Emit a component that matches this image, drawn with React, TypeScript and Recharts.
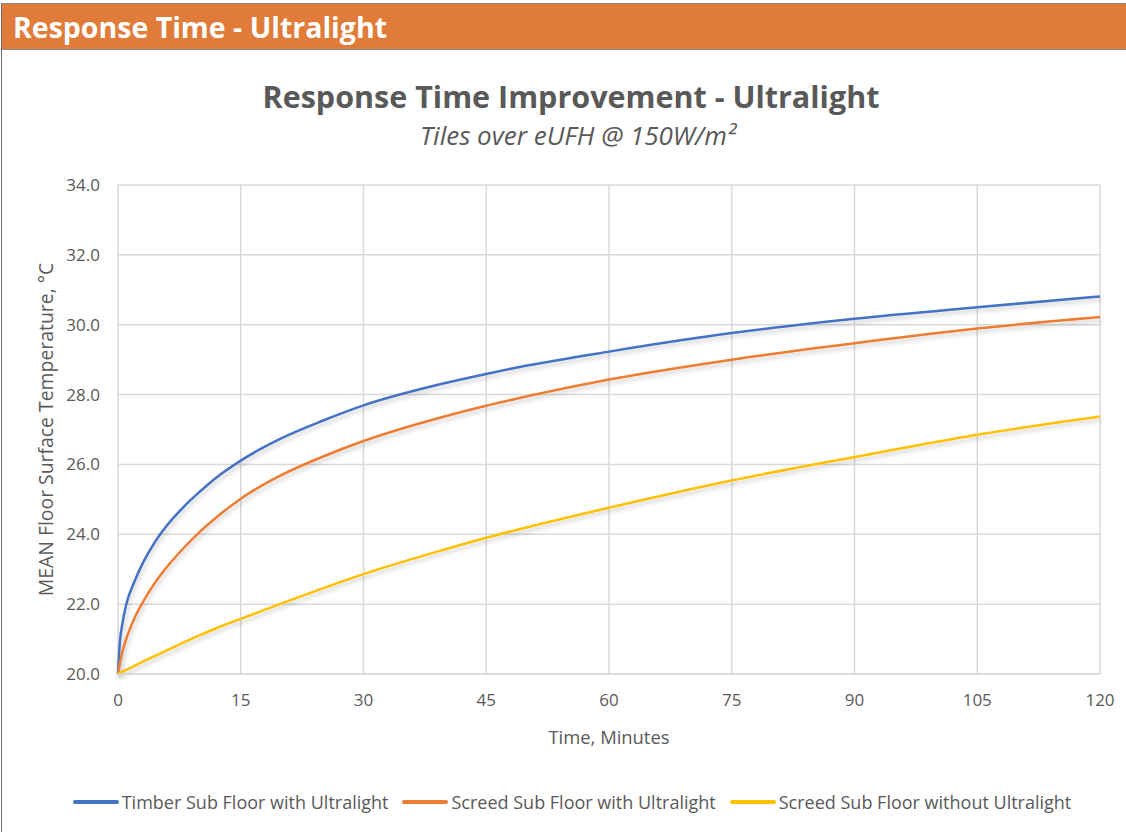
import { LineChart, Line, XAxis, YAxis, CartesianGrid } from "recharts";

const minutes = [0, 0.25, 0.5, 1, 2, 3, 4, 5, 6, 8, 10, 12, 15, 20, 25, 30, 40, 45, 50, 60, 75, 90, 105, 120];
const timberWith = [20, 20.97, 21.39, 21.98, 22.64, 23.16, 23.58, 23.95, 24.26, 24.78, 25.22, 25.62, 26.11, 26.75, 27.25, 27.69, 28.33, 28.59, 28.83, 29.23, 29.76, 30.17, 30.5, 30.81];
const screedWith = [20, 20.33, 20.6, 21.0, 21.59, 22.04, 22.43, 22.77, 23.07, 23.6, 24.07, 24.48, 25.02, 25.7, 26.22, 26.67, 27.38, 27.68, 27.95, 28.43, 29.0, 29.47, 29.89, 30.22];
const screedWithout = [20, 20.03, 20.06, 20.12, 20.23, 20.35, 20.46, 20.57, 20.68, 20.9, 21.11, 21.31, 21.58, 22.02, 22.45, 22.86, 23.57, 23.9, 24.2, 24.76, 25.54, 26.21, 26.85, 27.37];

const xTicks = [0, 15, 30, 45, 60, 75, 90, 105, 120];
const yTicks = [20, 22, 24, 26, 28, 30, 32, 34];

const SERIES = [
  { key: "timber", name: "Timber Sub Floor with Ultralight", color: "#4472C4" },
  { key: "screed", name: "Screed Sub Floor with Ultralight", color: "#ED7D31" },
  { key: "screedNo", name: "Screed Sub Floor without Ultralight", color: "#FFC000" },
];

const FONT = "'Open Sans', Lato, sans-serif";
const TEXT = "#595959";

const data = minutes.map((t, i) => ({
  t,
  timber: timberWith[i],
  screed: screedWith[i],
  screedNo: screedWithout[i],
}));

export default function App() {
  return (
    <div style={{ position: "fixed", left: 0, top: 0, width: 1126, height: 832, background: "#fff", overflow: "hidden" }}>
      <svg width={0} height={0} style={{ position: "absolute" }}>
        <defs>
          <filter id="lineShadow" x="-5%" y="-5%" width="110%" height="120%">
            <feDropShadow dx={1.5} dy={3} stdDeviation={2} floodColor="#000" floodOpacity={0.2} />
          </filter>
        </defs>
      </svg>
      <div
        style={{
          position: "absolute",
          left: 1,
          top: 3,
          width: 1140,
          height: 840,
          borderLeft: "1.5px solid #6f6f6f",
          borderTop: "1.5px solid #8a8a8a",
          boxSizing: "border-box",
        }}
      >
        <div
          style={{
            height: 45,
            background: "#E07B39",
            borderBottom: "1.5px solid #8a8a8a",
            color: "#fff",
            fontFamily: FONT,
            fontWeight: 700,
            fontSize: 28.5,
            lineHeight: "46px",
            paddingLeft: 11,
          }}
        >
          Response Time - Ultralight
        </div>
      </div>
      <div
        style={{
          position: "absolute",
          left: 0,
          top: 75,
          width: 1142,
          textAlign: "center",
          fontFamily: FONT,
          fontWeight: 700,
          fontSize: 30.5,
          color: TEXT,
        }}
      >
        Response Time Improvement - Ultralight
      </div>
      <div
        style={{
          position: "absolute",
          left: 0,
          top: 117,
          width: 1156,
          textAlign: "center",
          fontFamily: FONT,
          fontStyle: "italic",
          fontSize: 26,
          color: TEXT,
        }}
      >
        Tiles over eUFH @ 150W/m²
      </div>
      <div style={{ position: "absolute", left: 0, top: 0 }}>
        <LineChart width={1126} height={832} data={data} margin={{ top: 185, right: 26, bottom: 98, left: 58 }}>
          <CartesianGrid stroke="#d9d9d9" strokeWidth={1.5} />
          <XAxis
            dataKey="t"
            type="number"
            domain={[0, 120]}
            ticks={xTicks}
            height={60}
            tickLine={false}
            tickSize={0}
            tickMargin={20}
            axisLine={{ stroke: "#d9d9d9", strokeWidth: 1.5 }}
            tick={{ fill: TEXT, fontSize: 17, fontFamily: FONT }}
            label={{
              content: ({ viewBox }: any) => (
                <text
                  x={viewBox.x + viewBox.width / 2}
                  y={viewBox.y + 70}
                  textAnchor="middle"
                  fill={TEXT}
                  fontSize={18.4}
                  fontFamily={FONT}
                >
                  Time, Minutes
                </text>
              ),
            }}
          />
          <YAxis
            type="number"
            domain={[20, 34]}
            ticks={yTicks}
            width={60}
            axisLine={false}
            tickLine={false}
            tickSize={0}
            tickMargin={18}
            tickFormatter={(v: number) => v.toFixed(1)}
            tick={{ fill: TEXT, fontSize: 17, fontFamily: FONT }}
            label={{
              content: ({ viewBox }: any) => {
                const cx = viewBox.x - 13;
                const cy = viewBox.y + viewBox.height / 2;
                return (
                  <text
                    x={cx}
                    y={cy}
                    transform={`rotate(-90, ${cx}, ${cy})`}
                    textAnchor="middle"
                    dominantBaseline="central"
                    fill={TEXT}
                    fontSize={19.4}
                    fontFamily={FONT}
                  >
                    MEAN Floor Surface Temperature, °C
                  </text>
                );
              },
            }}
          />
          {SERIES.map((s) => (
            <Line
              key={s.key}
              type="monotone"
              dataKey={s.key}
              name={s.name}
              stroke={s.color}
              strokeWidth={2.5}
              dot={false}
              filter="url(#lineShadow)"
              isAnimationActive={false}
            />
          ))}
        </LineChart>
      </div>
      <div
        style={{
          position: "absolute",
          left: 0,
          top: 789,
          width: 1144,
          display: "flex",
          justifyContent: "center",
          gap: 14,
          fontFamily: FONT,
          fontSize: 18,
          color: TEXT,
          lineHeight: "26px",
        }}
      >
        {SERIES.map((s) => (
          <div key={s.key} style={{ display: "flex", alignItems: "center", gap: 3 }}>
            <span style={{ display: "inline-block", width: 46, height: 4, borderRadius: 2, background: s.color }} />
            <span>{s.name}</span>
          </div>
        ))}
      </div>
    </div>
  );
}
